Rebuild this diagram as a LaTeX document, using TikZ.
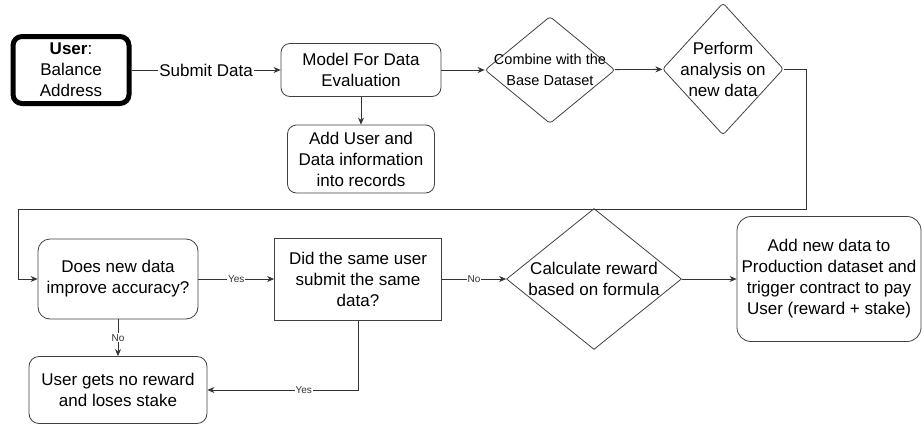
\documentclass[tikz,border=0pt]{standalone}
\usepackage{fontspec}
\setmainfont{Liberation Sans}
\usetikzlibrary{arrows.meta,shapes.geometric,positioning}

\begin{document}
\begin{tikzpicture}[x=1pt,y=-1pt,
    box/.style={draw=black!75, line width=0.8pt, rounded corners=9pt, align=center, inner sep=0pt,
        font=\fontsize{17}{21}\selectfont},
    sqbox/.style={box, rounded corners=0pt},
    choice/.style={draw=black!75, line width=0.8pt, diamond, inner sep=0pt},
    conn/.style={draw=black!80, line width=0.8pt, -{Stealth[length=7pt,width=6pt]}},
    tag/.style={fill=white, inner sep=1pt, font=\fontsize{10}{10}\selectfont, text=black!80}]

    \useasboundingbox (0,0) rectangle (923,426);

    % top row
    \node[box, draw=black, line width=5pt, minimum width=116pt, minimum height=67pt] (user) at (71,70)
        {\textbf{User}:\\Balance\\Address};
    \node[box, minimum width=160pt, minimum height=53pt] (model) at (361,70) {Model For Data\\Evaluation};
    \node[box, minimum width=147pt, minimum height=68pt] (records) at (361,159)
        {Add User and\\Data information\\into records};
    \node[choice, rounded corners=3pt, minimum width=130pt, minimum height=107pt,
        label={[align=center, font=\fontsize{14.5}{21}\selectfont]center:Combine with the\\Base Dataset}] (combine) at (550,70) {};
    \node[choice, rounded corners=3pt, minimum width=121pt, minimum height=132pt,
        label={[align=center, font=\fontsize{17}{21}\selectfont]center:Perform\\analysis on\\new data}] (perform) at (723,69) {};

    % bottom row
    \node[box, rounded corners=12pt, minimum width=160pt, minimum height=80pt] (improve) at (118,279)
        {Does new data\\improve accuracy?};
    \node[sqbox, minimum width=167pt, minimum height=82pt] (same) at (358,279)
        {Did the same user\\submit the same\\data?};
    \node[choice, minimum width=175pt, minimum height=141pt,
        label={[align=center, font=\fontsize{17}{21}\selectfont]center:Calculate reward\\based on formula}] (reward) at (594,279) {};
    \node[box, rounded corners=14pt, minimum width=184pt, minimum height=125pt] (payout) at (829,279)
        {Add new data to\\Production dataset and\\trigger contract to pay\\User (reward + stake)};
    \node[box, rounded corners=10pt, minimum width=178pt, minimum height=67pt] (nostake) at (118,390)
        {User gets no reward\\and loses stake};

    \coordinate (turnR) at (806,209);
    \coordinate (turnL) at (18,209);

    \draw[conn] (user) -- node[fill=white, inner sep=1pt, font=\fontsize{17}{21}\selectfont] {Submit Data} (model);
    \draw[conn] (model) -- (records);
    \draw[conn] (model) -- (combine);
    \draw[conn] (combine) -- (perform);
    \draw[conn] (perform.east) -| (turnR) -- (turnL) |- (improve.west);

    \draw[conn] (improve) -- node[tag] {Yes} (same);
    \draw[conn] (same) -- node[tag] {No} (reward);
    \draw[conn] (reward) -- (payout);
    \draw[conn] (improve) -- node[tag] {No} (nostake);
    \draw[conn] (same.south) |- node[tag, pos=0.68] {Yes} (nostake.east);

\end{tikzpicture}
\end{document}
